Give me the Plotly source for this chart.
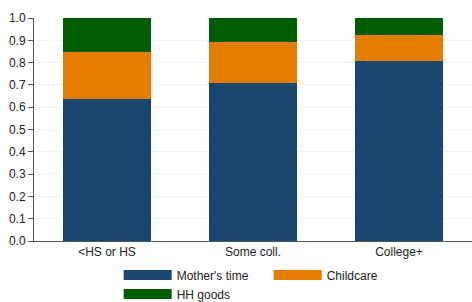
import plotly.graph_objects as go

categories = ["<HS or HS", "Some coll.", "College+"]
mothers_time = [0.635, 0.707, 0.806]
childcare = [0.211, 0.184, 0.116]
hh_goods = [0.154, 0.109, 0.078]
y_ticks = [0.0, 0.1, 0.2, 0.3, 0.4, 0.5, 0.6, 0.7, 0.8, 0.9, 1.0]

series = [
    ("Mother's time", mothers_time, "#1a476f"),
    ("Childcare", childcare, "#e57e00"),
    ("HH goods", hh_goods, "#005c00"),
]

fig = go.Figure()
for name, vals, color in series:
    fig.add_trace(go.Bar(
        x=categories, y=vals, name=name,
        marker=dict(color=color, line=dict(width=0)),
        width=0.6, showlegend=False, legendgroup=name,
    ))
# legend-only entries with wide swatches
for name, vals, color in series:
    fig.add_trace(go.Scatter(
        x=[None], y=[None], mode="lines", name=name,
        line=dict(color=color, width=11), legendgroup=name,
        hoverinfo="skip",
    ))

fig.update_layout(
    barmode="stack",
    width=472, height=302,
    margin=dict(l=34, r=0, t=18, b=61, autoexpand=False),
    paper_bgcolor="white", plot_bgcolor="white",
    font=dict(family="Liberation Sans, Arial, sans-serif", size=12, color="#222222"),
    showlegend=True,
    legend=dict(
        orientation="h", x=0.1933, xanchor="left", y=-0.088, yanchor="top",
        entrywidth=87, entrywidthmode="pixels", itemwidth=48,
        traceorder="normal", font=dict(size=12, color="#222222"),
        itemclick=False, tracegroupgap=0,
    ),
    bargap=0.4,
)
fig.update_xaxes(
    showline=True, linecolor="#555555", linewidth=1,
    ticks="", showgrid=False, tickfont=dict(size=12), automargin=False,
    type="category",
)
fig.update_yaxes(
    range=[0, 1.0], tickvals=y_ticks, ticktext=[f"{v:.1f}" for v in y_ticks],
    showline=True, linecolor="#555555", linewidth=1,
    ticks="outside", ticklen=5, tickcolor="#555555",
    showgrid=True, gridcolor="#eef3f3", gridwidth=1,
    zeroline=False, tickfont=dict(size=12), automargin=False,
)
fig.write_html(
    "out.html",
    config={"displayModeBar": False},
    post_script="document.body.style.margin='0';document.body.style.overflow='hidden';",
)
